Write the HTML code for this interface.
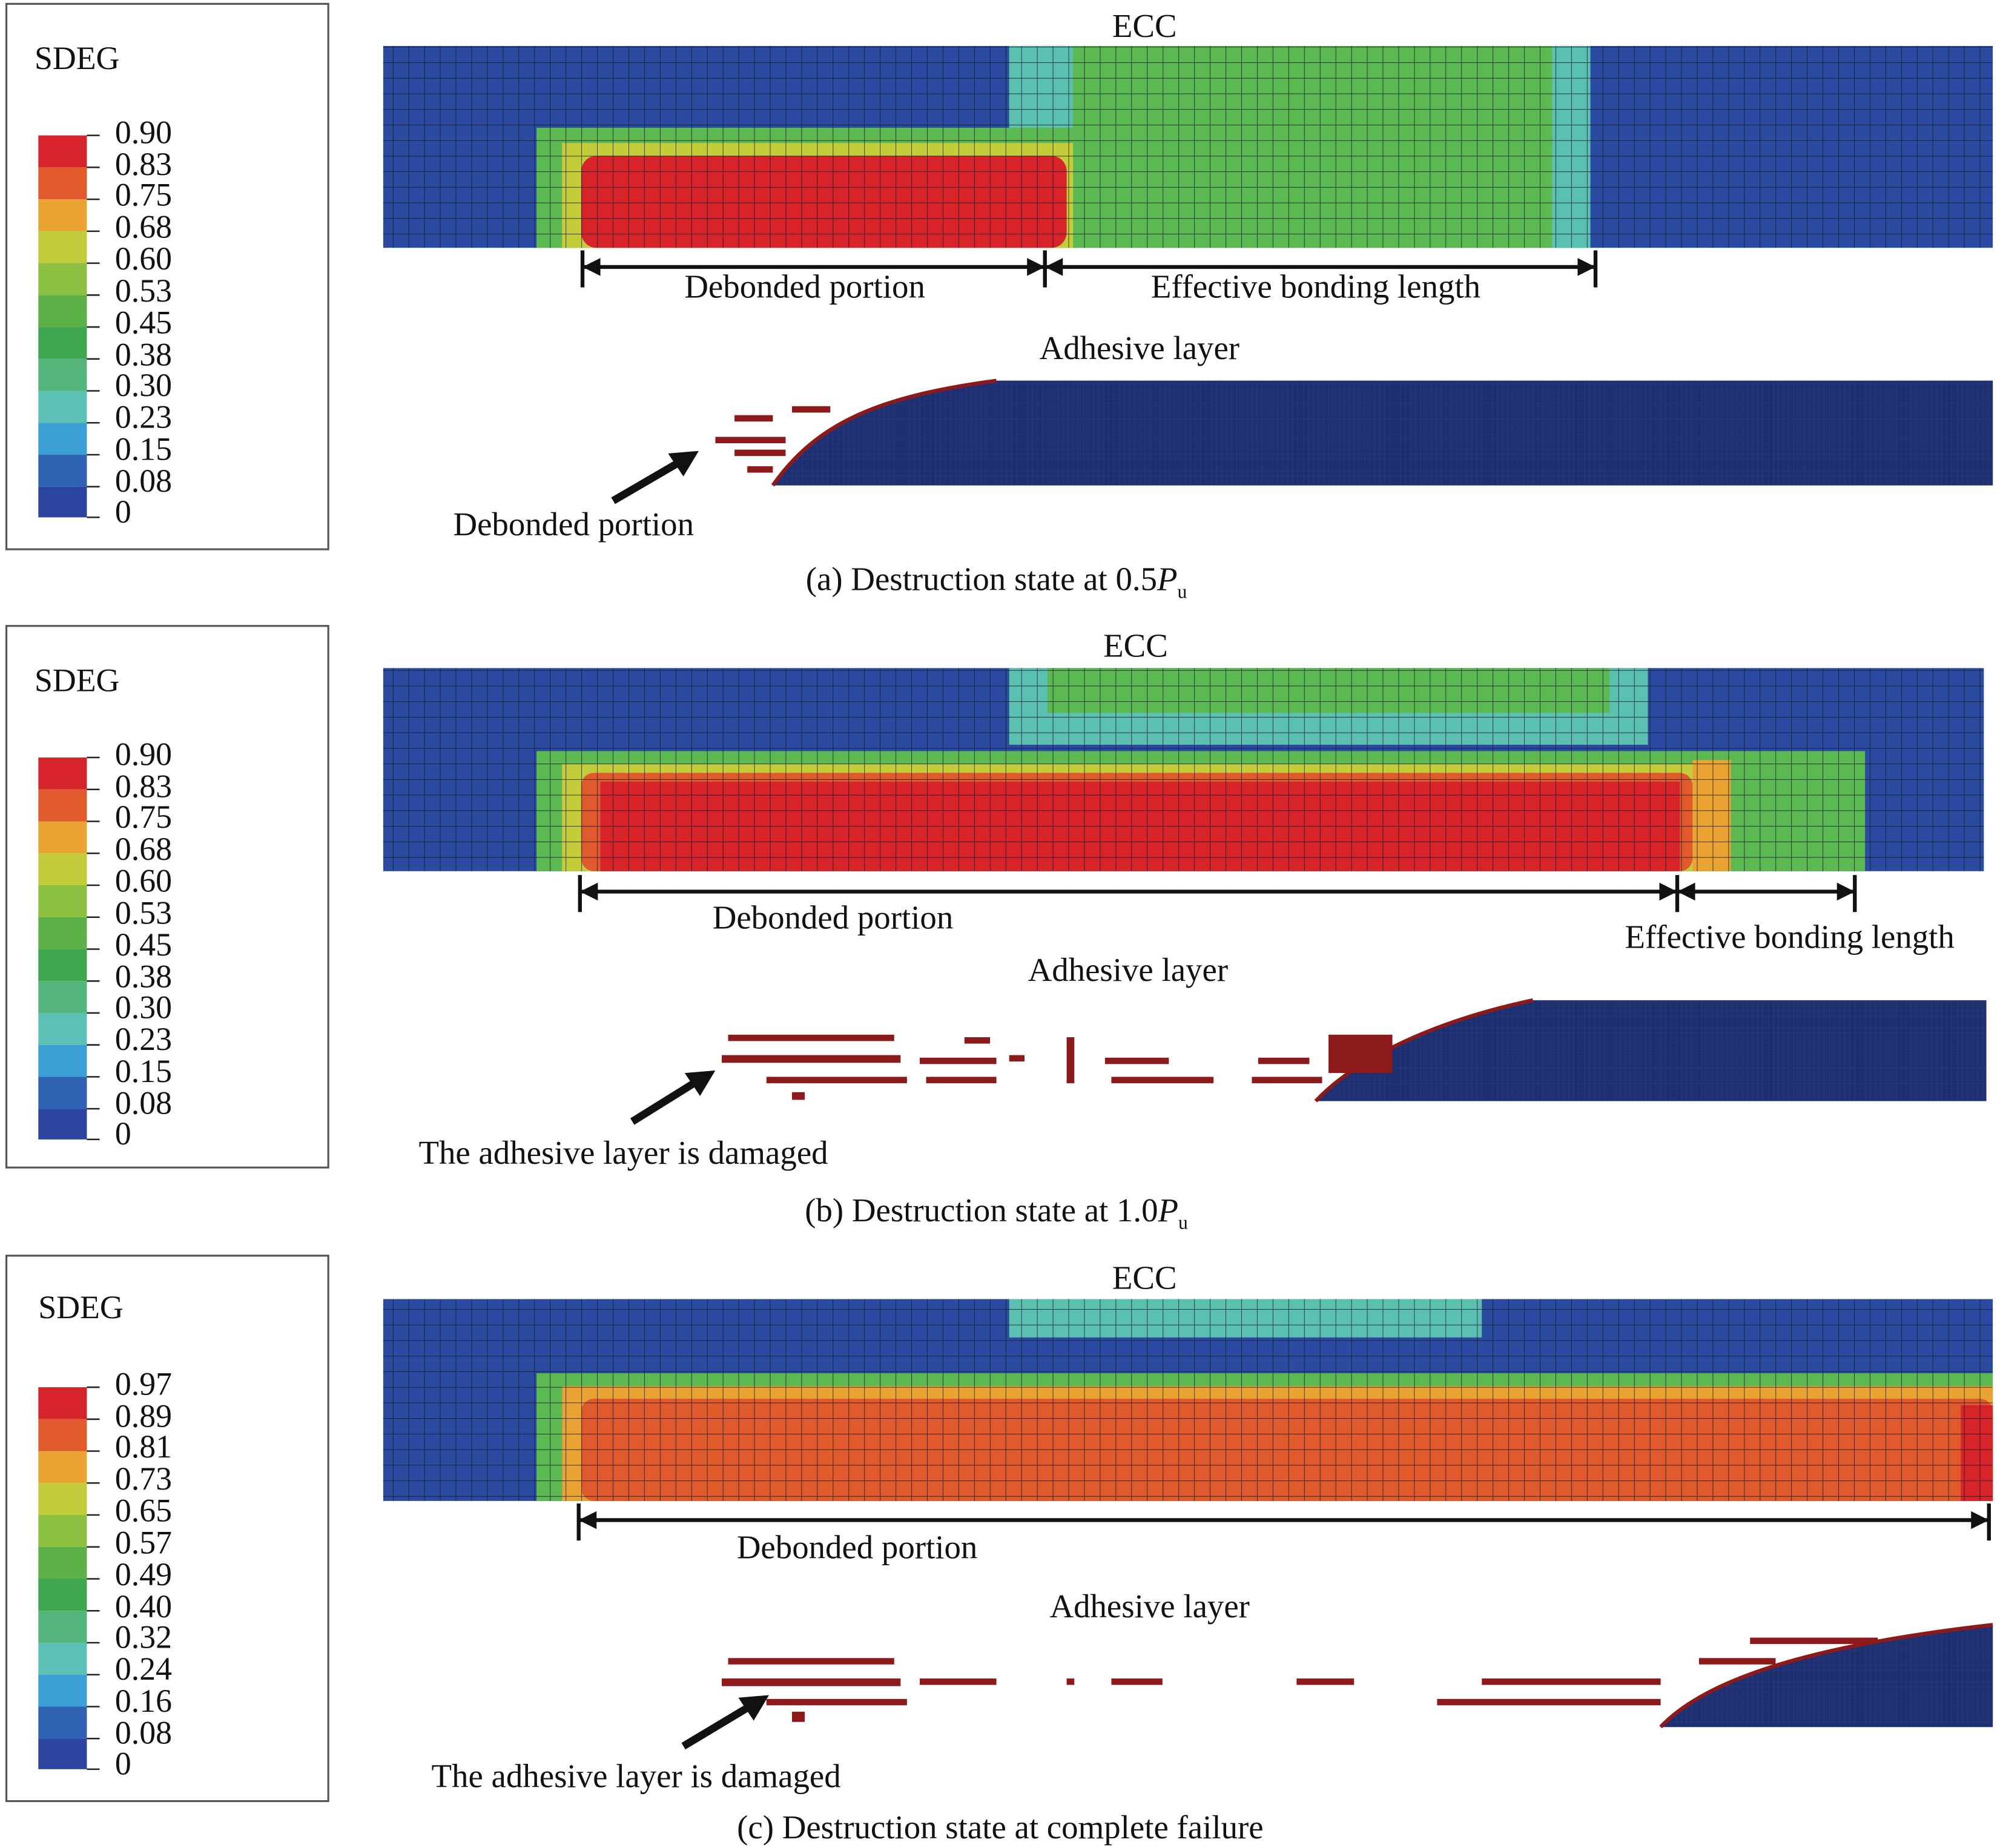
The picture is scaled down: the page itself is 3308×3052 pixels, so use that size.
<!DOCTYPE html>
<html><head><meta charset="utf-8"><style>
html,body{margin:0;padding:0;background:#fff}
svg{display:block}
text{font-family:"Liberation Serif",serif;fill:#111}
</style></head><body>
<svg width="3308" height="3052" viewBox="0 0 1568 1446.7" preserveAspectRatio="none" xmlns="http://www.w3.org/2000/svg">
<defs>
<pattern id="g" width="12.3" height="12.2" patternUnits="userSpaceOnUse">
<path d="M0 0H12.3M0 0V12.2" stroke="#101828" stroke-width="0.9" fill="none" opacity="0.8"/>
</pattern>
<pattern id="fine" width="4" height="4" patternUnits="userSpaceOnUse">
<path d="M0 0H4M0 0V4" stroke="#2a3a80" stroke-width="0.5" fill="none"/>
</pattern>
<g id="bar">
<rect x="30" y="106" width="38" height="25" fill="#d6242a"/>
<rect x="30" y="131" width="38" height="25" fill="#e05a2c"/>
<rect x="30" y="156" width="38" height="25" fill="#e8a332"/>
<rect x="30" y="181" width="38" height="25" fill="#c5cc3a"/>
<rect x="30" y="206" width="38" height="25" fill="#8cc040"/>
<rect x="30" y="231" width="38" height="25" fill="#5cb048"/>
<rect x="30" y="256" width="38" height="25" fill="#3fa650"/>
<rect x="30" y="281" width="38" height="25" fill="#55b47a"/>
<rect x="30" y="306" width="38" height="25" fill="#5cc0b6"/>
<rect x="30" y="331" width="38" height="25" fill="#3c9fd4"/>
<rect x="30" y="356" width="38" height="25" fill="#3062b2"/>
<rect x="30" y="381" width="38" height="24" fill="#2a44a0"/>
<g stroke="#222" stroke-width="1.2">
<path d="M68 106H78M68 131H78M68 156H78M68 181H78M68 206H78M68 231H78M68 256H78M68 281H78M68 306H78M68 331H78M68 356H78M68 381H78M68 405H78"/></g>
</g>
</defs>
<rect width="1568" height="1447" fill="#fff"/>

<!-- Panel A -->
<rect x="5" y="3" width="252" height="427" fill="#fff" stroke="#555" stroke-width="1.5"/>
<text x="27" y="54" font-size="25.5">SDEG</text>
<use href="#bar"/>
<g font-size="25.5"><text x="90" y="112">0.90</text><text x="90" y="137">0.83</text><text x="90" y="161">0.75</text><text x="90" y="186">0.68</text><text x="90" y="211">0.60</text><text x="90" y="236">0.53</text><text x="90" y="261">0.45</text><text x="90" y="286">0.38</text><text x="90" y="310">0.30</text><text x="90" y="335">0.23</text><text x="90" y="360">0.15</text><text x="90" y="385">0.08</text><text x="90" y="409">0</text></g>
<rect x="300" y="36" width="1260" height="158" fill="#2b4ba0"/>
<rect x="790" y="36" width="455" height="158" fill="#5cb850"/>
<rect x="790" y="36" width="50" height="80" fill="#5cc0b0"/>
<rect x="1215" y="36" width="30" height="158" fill="#5cc0b0"/>
<rect x="420" y="100" width="420" height="94" fill="#5cb850"/>
<rect x="440" y="112" width="400" height="82" fill="#c5cc3a"/>
<rect x="455" y="122" width="380" height="72" rx="12" fill="#d6242a"/>
<rect x="300" y="36" width="1260" height="158" fill="url(#g)"/>
<g stroke="#111" stroke-width="3"><path d="M456 209H818M818 209H1249M456 196V225M818 196V225M1249 196V225"/></g>
<path d="M456 209l14 -7v14zM818 209l-14 -7v14zM818 209l14 -7v14zM1249 209l-14 -7v14z" fill="#111"/>
<g font-size="26" text-anchor="middle"><text x="630" y="233">Debonded portion</text><text x="1030" y="233">Effective bonding length</text>
<text x="896" y="29">ECC</text><text x="892" y="281">Adhesive layer</text><text x="449" y="419">Debonded portion</text></g>
<path d="M605 380 C640 330 690 310 780 298 H1560 V380Z" fill="#1e2f70"/>
<path d="M605 380 C640 330 690 310 780 298 H1560 V380Z" fill="url(#fine)"/>
<path d="M605 380 C640 330 690 310 780 298" stroke="#8c1a1a" stroke-width="3" fill="none"/>
<g fill="#8c1a1a"><rect x="575" y="325" width="30" height="5"/><rect x="560" y="342" width="55" height="5"/><rect x="575" y="352" width="40" height="5"/><rect x="585" y="365" width="20" height="5"/><rect x="620" y="318" width="30" height="5"/></g>
<path d="M480 392 L535 360" stroke="#111" stroke-width="6"/><path d="M547 353 l-24 2 l12 18z" fill="#111"/>
<text x="780" y="462" font-size="26" text-anchor="middle">(a) Destruction state at 0.5<tspan font-style="italic">P</tspan><tspan font-size="15" dy="6">u</tspan></text>

<!-- Panel B -->
<g transform="translate(0,487)">
<rect x="5" y="3" width="252" height="424" fill="#fff" stroke="#555" stroke-width="1.5"/>
<text x="27" y="54" font-size="25.5">SDEG</text>
<use href="#bar"/>
<g font-size="25.5"><text x="90" y="112">0.90</text><text x="90" y="137">0.83</text><text x="90" y="161">0.75</text><text x="90" y="186">0.68</text><text x="90" y="211">0.60</text><text x="90" y="236">0.53</text><text x="90" y="261">0.45</text><text x="90" y="286">0.38</text><text x="90" y="310">0.30</text><text x="90" y="335">0.23</text><text x="90" y="360">0.15</text><text x="90" y="385">0.08</text><text x="90" y="409">0</text></g>
</g>
<rect x="300" y="523" width="1253" height="159" fill="#2b4ba0"/>
<rect x="790" y="523" width="500" height="60" fill="#5cc0b0"/>
<rect x="820" y="523" width="440" height="35" fill="#5cb850"/>
<rect x="420" y="588" width="1040" height="94" fill="#5cb850"/>
<rect x="440" y="598" width="900" height="84" fill="#c5cc3a"/>
<rect x="455" y="605" width="870" height="77" rx="10" fill="#e05a2c"/>
<rect x="470" y="612" width="845" height="70" fill="#d6242a"/>
<rect x="1325" y="595" width="30" height="87" fill="#e8a332"/>
<rect x="300" y="523" width="1253" height="159" fill="url(#g)"/>
<g stroke="#111" stroke-width="3"><path d="M454 698H1452M454 685V714M1313 685V714M1452 685V714"/></g>
<path d="M454 698l14 -7v14zM1313 698l-14 -7v14zM1313 698l14 -7v14zM1452 698l-14 -7v14z" fill="#111"/>
<g font-size="26" text-anchor="middle"><text x="889" y="514">ECC</text><text x="652" y="727">Debonded portion</text><text x="1401" y="742">Effective bonding length</text>
<text x="883" y="768">Adhesive layer</text><text x="488" y="911">The adhesive layer is damaged</text></g>
<path d="M1030 862 C1060 830 1120 800 1200 783 H1555 V862Z" fill="#1e2f70"/>
<path d="M1030 862 C1060 830 1120 800 1200 783 H1555 V862Z" fill="url(#fine)"/>
<path d="M1030 862 C1060 830 1120 800 1200 783" stroke="#8c1a1a" stroke-width="3" fill="none"/>
<g fill="#8c1a1a"><rect x="570" y="810" width="130" height="5"/><rect x="565" y="826" width="140" height="6"/><rect x="720" y="828" width="60" height="5"/><rect x="600" y="843" width="110" height="5"/><rect x="725" y="843" width="55" height="5"/><rect x="620" y="855" width="10" height="6"/><rect x="755" y="812" width="20" height="5"/><rect x="790" y="826" width="12" height="5"/><rect x="835" y="812" width="6" height="36"/><rect x="865" y="828" width="50" height="5"/><rect x="870" y="843" width="80" height="5"/><rect x="985" y="828" width="40" height="5"/><rect x="980" y="843" width="55" height="5"/><rect x="1040" y="810" width="50" height="30"/></g>
<path d="M495 878 L548 845" stroke="#111" stroke-width="6"/><path d="M560 838 l-24 2 l12 18z" fill="#111"/>
<text x="780" y="956" font-size="26" text-anchor="middle">(b) Destruction state at 1.0<tspan font-style="italic">P</tspan><tspan font-size="15" dy="6">u</tspan></text>

<!-- Panel C -->
<g transform="translate(0,980)">
<rect x="5" y="3" width="252" height="427" fill="#fff" stroke="#555" stroke-width="1.5"/>
<text x="30" y="52" font-size="25.5">SDEG</text>
<use href="#bar"/>
<g font-size="25.5"><text x="90" y="112">0.97</text><text x="90" y="137">0.89</text><text x="90" y="161">0.81</text><text x="90" y="186">0.73</text><text x="90" y="211">0.65</text><text x="90" y="236">0.57</text><text x="90" y="261">0.49</text><text x="90" y="286">0.40</text><text x="90" y="310">0.32</text><text x="90" y="335">0.24</text><text x="90" y="360">0.16</text><text x="90" y="385">0.08</text><text x="90" y="409">0</text></g>
</g>
<rect x="300" y="1017" width="1260" height="158" fill="#2b4ba0"/>
<rect x="790" y="1017" width="370" height="30" fill="#5cc0b0"/>
<rect x="420" y="1075" width="1140" height="100" fill="#5cb850"/>
<rect x="440" y="1085" width="1120" height="90" fill="#e8a332"/>
<rect x="455" y="1095" width="1105" height="80" rx="10" fill="#e05a2c"/>
<rect x="1535" y="1100" width="25" height="75" fill="#d6242a"/>
<rect x="300" y="1017" width="1260" height="158" fill="url(#g)"/>
<g stroke="#111" stroke-width="3"><path d="M453 1190H1557M453 1177V1206M1557 1177V1206"/></g>
<path d="M453 1190l14 -7v14zM1557 1190l-14 -7v14z" fill="#111"/>
<g font-size="26" text-anchor="middle"><text x="896" y="1009">ECC</text><text x="671" y="1220">Debonded portion</text>
<text x="900" y="1266">Adhesive layer</text><text x="498" y="1399">The adhesive layer is damaged</text></g>
<path d="M1300 1352 C1330 1320 1400 1290 1560 1272 V1352Z" fill="#1e2f70"/>
<path d="M1300 1352 C1330 1320 1400 1290 1560 1272 V1352Z" fill="url(#fine)"/>
<path d="M1300 1352 C1330 1320 1400 1290 1560 1272" stroke="#8c1a1a" stroke-width="3" fill="none"/>
<g fill="#8c1a1a"><rect x="570" y="1298" width="130" height="5"/><rect x="565" y="1314" width="140" height="6"/><rect x="720" y="1314" width="60" height="5"/><rect x="600" y="1330" width="110" height="5"/><rect x="620" y="1340" width="10" height="8"/><rect x="835" y="1314" width="6" height="5"/><rect x="870" y="1314" width="40" height="5"/><rect x="1015" y="1314" width="45" height="5"/><rect x="1125" y="1330" width="175" height="5"/><rect x="1160" y="1314" width="140" height="5"/><rect x="1370" y="1282" width="100" height="5"/><rect x="1330" y="1298" width="60" height="5"/></g>
<path d="M535 1367 L590 1334" stroke="#111" stroke-width="6"/><path d="M602 1327 l-24 2 l12 18z" fill="#111"/>
<text x="783" y="1439" font-size="26" text-anchor="middle">(c) Destruction state at complete failure</text>
</svg>
</body></html>
